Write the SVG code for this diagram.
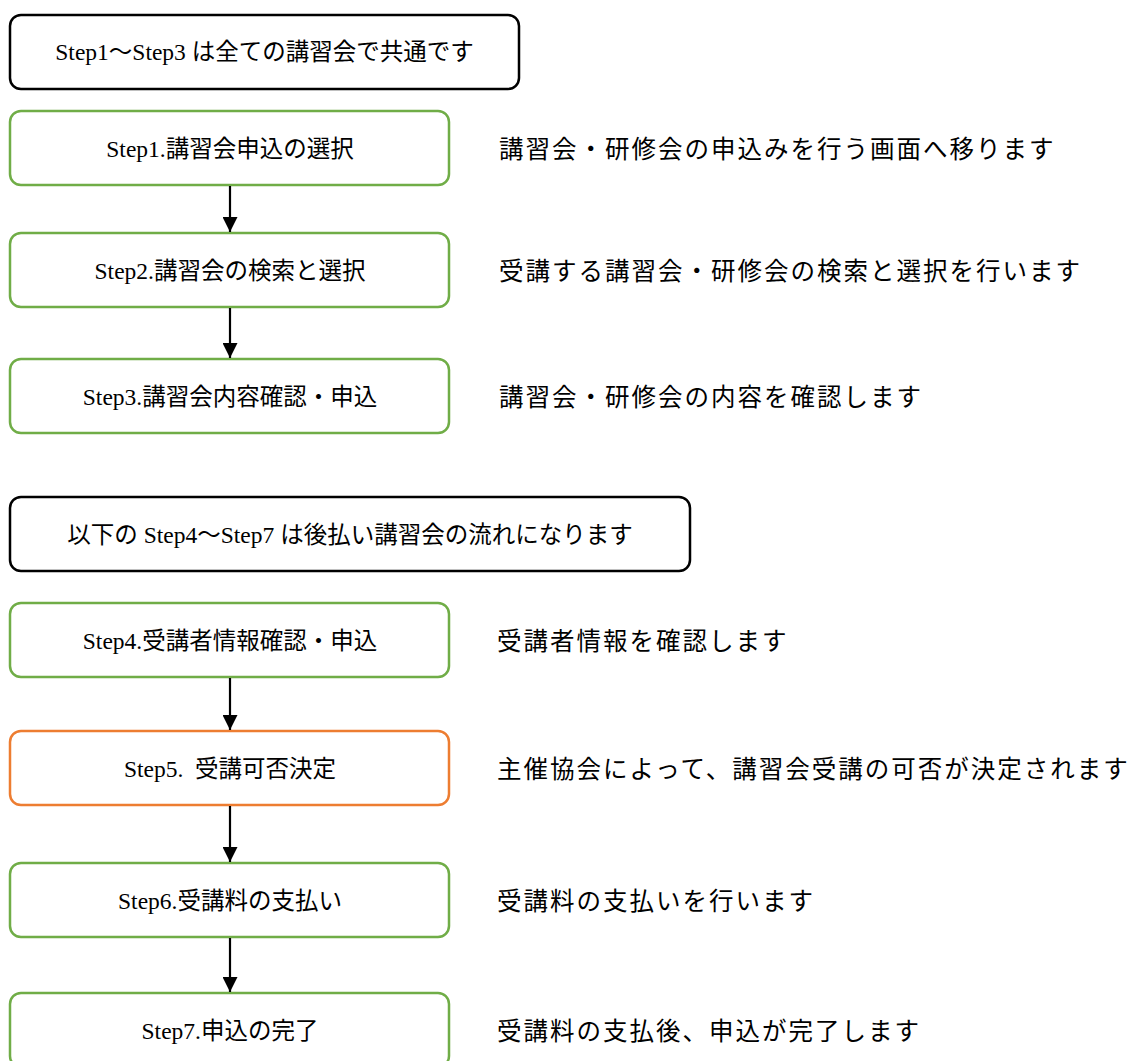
<svg xmlns="http://www.w3.org/2000/svg" width="1137" height="1061" viewBox="0 0 1137 1061">
<style>
.box{fill:#fff;stroke-width:2.5}
.hdr{stroke:#000}
.grn{stroke:#70AD47}
.org{stroke:#ED7D31}
.bt{font-family:"Liberation Serif","Noto Sans CJK JP",serif;font-size:23.5px;fill:#000;text-anchor:middle;dominant-baseline:central;white-space:pre}
.rt{font-family:"Liberation Serif","Noto Sans CJK JP",serif;font-size:24.5px;fill:#000;dominant-baseline:central;letter-spacing:2px}
.conn line{stroke:#000;stroke-width:2.2}
</style>
<defs>
<marker id="ah" viewBox="0 0 10 10" refX="10" refY="5" markerWidth="15" markerHeight="15" markerUnits="userSpaceOnUse" orient="auto">
<path d="M0,0 L10,5 L0,10 Z" fill="#000"/>
</marker>
</defs>
<rect width="1137" height="1061" fill="#fff"/>
<g id="header1">
<rect class="box hdr" x="10" y="15" width="509" height="74" rx="11"/>
<text class="bt" x="264.5" y="52">Step1～Step3 は全ての講習会で共通です</text>
</g>
<g id="step1">
<rect class="box grn" x="10" y="111" width="439" height="74" rx="11"/>
<text class="bt" x="230" y="149">Step1.講習会申込の選択</text>
<text class="rt" x="499" y="149">講習会・研修会の申込みを行う画面へ移ります</text>
</g>
<g id="step2">
<rect class="box grn" x="10" y="233" width="439" height="74" rx="11"/>
<text class="bt" x="230" y="271">Step2.講習会の検索と選択</text>
<text class="rt" x="499" y="271">受講する講習会・研修会の検索と選択を行います</text>
</g>
<g id="step3">
<rect class="box grn" x="10" y="359" width="439" height="74" rx="11"/>
<text class="bt" x="230" y="397">Step3.講習会内容確認・申込</text>
<text class="rt" x="499" y="397">講習会・研修会の内容を確認します</text>
</g>
<g id="header2">
<rect class="box hdr" x="10" y="497" width="680" height="74" rx="11"/>
<text class="bt" x="350" y="535">以下の Step4～Step7 は後払い講習会の流れになります</text>
</g>
<g id="step4">
<rect class="box grn" x="10" y="603" width="439" height="74" rx="11"/>
<text class="bt" x="230" y="641">Step4.受講者情報確認・申込</text>
<text class="rt" x="497" y="641">受講者情報を確認します</text>
</g>
<g id="step5">
<rect class="box org" x="10" y="731" width="439" height="74" rx="11"/>
<text class="bt" x="230" y="769">Step5.  受講可否決定</text>
<text class="rt" x="497" y="769">主催協会によって、講習会受講の可否が決定されます</text>
</g>
<g id="step6">
<rect class="box grn" x="10" y="863" width="439" height="74" rx="11"/>
<text class="bt" x="230" y="901">Step6.受講料の支払い</text>
<text class="rt" x="497" y="901">受講料の支払いを行います</text>
</g>
<g id="step7">
<rect class="box grn" x="10" y="993" width="439" height="74" rx="11"/>
<text class="bt" x="230" y="1031">Step7.申込の完了</text>
<text class="rt" x="497" y="1031">受講料の支払後、申込が完了します</text>
</g>
<g id="connectors" class="conn">
<line x1="230" y1="186" x2="230" y2="232" marker-end="url(#ah)"/>
<line x1="230" y1="308" x2="230" y2="358" marker-end="url(#ah)"/>
<line x1="230" y1="678" x2="230" y2="730" marker-end="url(#ah)"/>
<line x1="230" y1="806" x2="230" y2="862" marker-end="url(#ah)"/>
<line x1="230" y1="938" x2="230" y2="992" marker-end="url(#ah)"/>
</g>
</svg>
